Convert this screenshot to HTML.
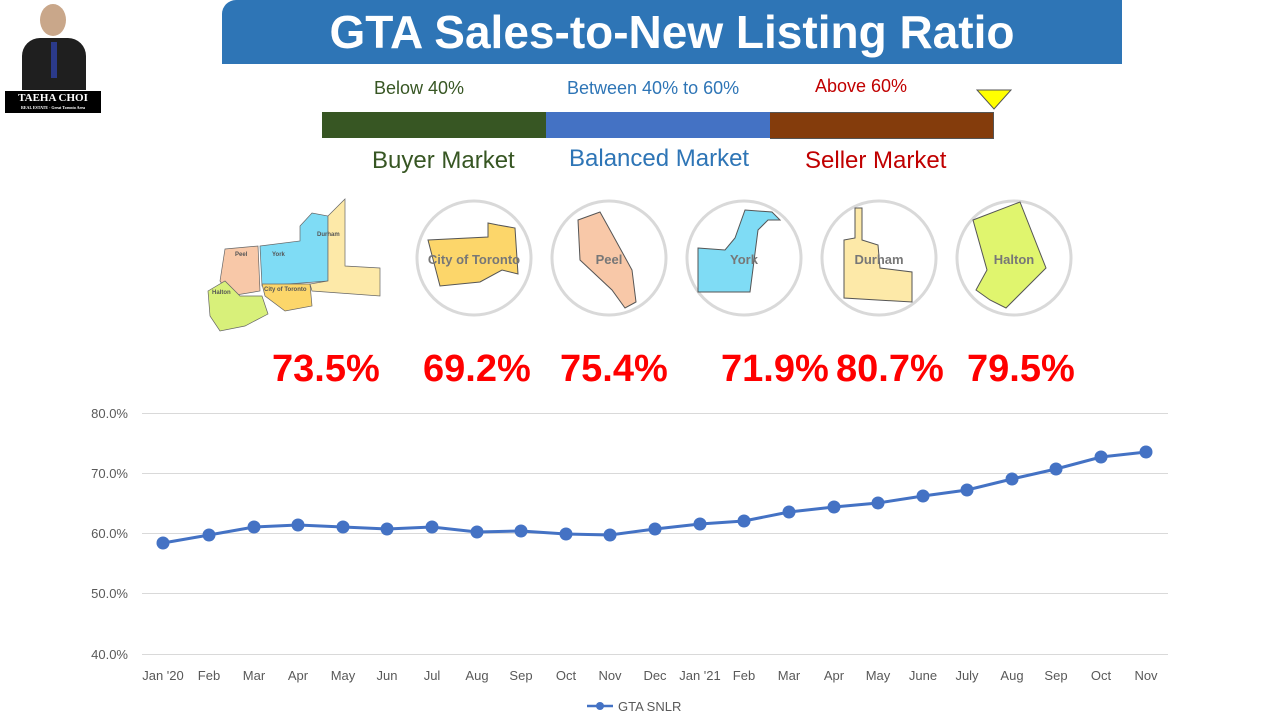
<!DOCTYPE html>
<html><head><meta charset="utf-8"><style>
body{margin:0;width:1280px;height:720px;background:#fff;position:relative;overflow:hidden;font-family:"Liberation Sans","DejaVu Sans",sans-serif}
.a{position:absolute;white-space:nowrap}
</style></head><body>
<div class="a" style="left:40px;top:4px;width:26px;height:32px;border-radius:50%;background:#c9a78a"></div>
<div class="a" style="left:22px;top:38px;width:64px;height:52px;border-radius:18px 18px 0 0;background:#1f1f1f"></div>
<div class="a" style="left:51px;top:42px;width:6px;height:36px;background:#2b3a8a"></div>
<div class="a" style="left:5px;top:91px;width:96px;height:22px;background:#000;color:#fff;font:bold 11px 'Liberation Serif',serif;text-align:center;line-height:14px">TAEHA CHOI<div style="font-size:4px;line-height:5px">REAL ESTATE · Great Toronto Area</div></div>
<div class="a" style="left:222px;top:0;width:900px;height:64px;background:#2e75b6;border-radius:14px 0 0 0;color:#fff;font:bold 46px 'Liberation Sans',sans-serif;text-align:center;line-height:64px">GTA Sales-to-New Listing Ratio</div>
<div class="a" style="left:374px;top:78px;color:#375623;font-size:18px">Below 40%</div>
<div class="a" style="left:567px;top:78px;color:#2e75b6;font-size:18px">Between 40% to 60%</div>
<div class="a" style="left:815px;top:76px;color:#c00000;font-size:18px">Above 60%</div>
<div class="a" style="left:322px;top:112px;width:224px;height:26px;background:#375623"></div>
<div class="a" style="left:546px;top:112px;width:224px;height:26px;background:#4472c4"></div>
<div class="a" style="left:770px;top:112px;width:223px;height:25px;background:#843c0c;border:1px solid #555;border-left:none"></div>
<svg class="a" style="left:976px;top:89px" width="36" height="22"><polygon points="1,1 35,1 18,20" fill="#ffff00" stroke="#555" stroke-width="1"/></svg>
<div class="a" style="left:372px;top:147px;color:#375623;font-size:24px">Buyer Market</div>
<div class="a" style="left:569px;top:145px;color:#2e75b6;font-size:24px">Balanced Market</div>
<div class="a" style="left:805px;top:147px;color:#c00000;font-size:24px">Seller Market</div>
<svg class="a" style="left:200px;top:196px" width="185" height="140">
<polygon points="25,53 58,50 60,95 30,100 20,85" fill="#f8c8a8" stroke="#666" stroke-width="0.7"/>
<polygon points="60,50 100,45 100,30 112,17 128,20 128,85 62,90" fill="#7fdcf5" stroke="#666" stroke-width="0.7"/>
<polygon points="62,88 110,88 112,110 85,115 65,100" fill="#fcd66a" stroke="#666" stroke-width="0.7"/>
<polygon points="128,20 145,3 145,70 180,72 180,100 112,95 110,88 128,85" fill="#fde9a8" stroke="#666" stroke-width="0.7"/>
<polygon points="8,95 25,85 40,100 62,100 68,118 45,130 20,135 10,120" fill="#d8f07a" stroke="#666" stroke-width="0.7"/>
<text x="35" y="60" font-size="6" fill="#555" font-weight="bold">Peel</text>
<text x="72" y="60" font-size="6" fill="#555" font-weight="bold">York</text>
<text x="64" y="95" font-size="6" fill="#555" font-weight="bold">City of Toronto</text>
<text x="117" y="40" font-size="6" fill="#555" font-weight="bold">Durham</text>
<text x="12" y="98" font-size="6" fill="#555" font-weight="bold">Halton</text>
</svg>
<svg class="a" style="left:400px;top:190px" width="700" height="140">
<g fill="#fff" stroke="#d9d9d9" stroke-width="3">
<circle cx="74" cy="68" r="57"/><circle cx="209" cy="68" r="57"/><circle cx="344" cy="68" r="57"/><circle cx="479" cy="68" r="57"/><circle cx="614" cy="68" r="57"/></g>
<polygon points="28,50 88,47 88,33 98,35 115,38 118,84 102,80 80,92 40,96" fill="#fcd66a" stroke="#555" stroke-width="1"/>
<polygon points="178,30 200,22 210,40 232,80 236,112 225,118 212,100 180,70" fill="#f8c8a8" stroke="#555" stroke-width="1"/>
<polygon points="298,58 325,60 335,48 345,20 372,22 380,30 368,30 358,40 350,102 298,102" fill="#7fdcf5" stroke="#555" stroke-width="1"/>
<polygon points="444,50 455,48 455,18 462,18 462,50 478,55 480,78 512,82 512,112 444,108" fill="#fde9a8" stroke="#555" stroke-width="1"/>
<polygon points="573,30 620,12 646,78 606,118 590,110 576,100 587,80" fill="#e0f56e" stroke="#555" stroke-width="1"/>
<g font-size="13" font-weight="bold" fill="#777" text-anchor="middle" font-family="Liberation Sans">
<text x="74" y="74">City of Toronto</text><text x="209" y="74">Peel</text><text x="344" y="74">York</text><text x="479" y="74">Durham</text><text x="614" y="74">Halton</text></g>
</svg>
<div class="a" style="left:0;top:348px;width:1280px;height:45px;color:#ff0000;font:bold 38px 'Liberation Sans',sans-serif">
<span class="a" style="left:272px">73.5%</span><span class="a" style="left:423px">69.2%</span><span class="a" style="left:560px">75.4%</span><span class="a" style="left:721px">71.9%</span><span class="a" style="left:836px">80.7%</span><span class="a" style="left:967px">79.5%</span></div>
<svg class="a" style="left:0;top:0" width="1280" height="720">
<g stroke="#d9d9d9" stroke-width="1">
<line x1="142" x2="1168" y1="413.5" y2="413.5"/><line x1="142" x2="1168" y1="473.5" y2="473.5"/><line x1="142" x2="1168" y1="533.5" y2="533.5"/><line x1="142" x2="1168" y1="593.5" y2="593.5"/><line x1="142" x2="1168" y1="654.5" y2="654.5"/></g>
<g font-size="13" fill="#595959" text-anchor="end" font-family="Liberation Sans">
<text x="128" y="418">80.0%</text><text x="128" y="478">70.0%</text><text x="128" y="538">60.0%</text><text x="128" y="598">50.0%</text><text x="128" y="659">40.0%</text></g>
<polyline fill="none" stroke="#4472c4" stroke-width="3" points="163,543 209,535 254,527 298,525 343,527 387,529 432,527 477,532 521,531 566,534 610,535 655,529 700,524 744,521 789,512 834,507 878,503 923,496 967,490 1012,479 1056,469 1101,457 1146,452"/>
<g fill="#4472c4">
<circle cx="163" cy="543" r="6.5"/><circle cx="209" cy="535" r="6.5"/><circle cx="254" cy="527" r="6.5"/><circle cx="298" cy="525" r="6.5"/><circle cx="343" cy="527" r="6.5"/><circle cx="387" cy="529" r="6.5"/><circle cx="432" cy="527" r="6.5"/><circle cx="477" cy="532" r="6.5"/><circle cx="521" cy="531" r="6.5"/><circle cx="566" cy="534" r="6.5"/><circle cx="610" cy="535" r="6.5"/><circle cx="655" cy="529" r="6.5"/><circle cx="700" cy="524" r="6.5"/><circle cx="744" cy="521" r="6.5"/><circle cx="789" cy="512" r="6.5"/><circle cx="834" cy="507" r="6.5"/><circle cx="878" cy="503" r="6.5"/><circle cx="923" cy="496" r="6.5"/><circle cx="967" cy="490" r="6.5"/><circle cx="1012" cy="479" r="6.5"/><circle cx="1056" cy="469" r="6.5"/><circle cx="1101" cy="457" r="6.5"/><circle cx="1146" cy="452" r="6.5"/></g>
<g font-size="13" fill="#595959" text-anchor="middle" font-family="Liberation Sans">
<text x="163" y="680">Jan '20</text><text x="209" y="680">Feb</text><text x="254" y="680">Mar</text><text x="298" y="680">Apr</text><text x="343" y="680">May</text><text x="387" y="680">Jun</text><text x="432" y="680">Jul</text><text x="477" y="680">Aug</text><text x="521" y="680">Sep</text><text x="566" y="680">Oct</text><text x="610" y="680">Nov</text><text x="655" y="680">Dec</text><text x="700" y="680">Jan '21</text><text x="744" y="680">Feb</text><text x="789" y="680">Mar</text><text x="834" y="680">Apr</text><text x="878" y="680">May</text><text x="923" y="680">June</text><text x="967" y="680">July</text><text x="1012" y="680">Aug</text><text x="1056" y="680">Sep</text><text x="1101" y="680">Oct</text><text x="1146" y="680">Nov</text></g>
<line x1="587" x2="613" y1="706" y2="706" stroke="#4472c4" stroke-width="2.5"/><circle cx="600" cy="706" r="4" fill="#4472c4"/>
<text x="618" y="711" font-size="13" fill="#595959" font-family="Liberation Sans">GTA SNLR</text>
</svg>
</body></html>
